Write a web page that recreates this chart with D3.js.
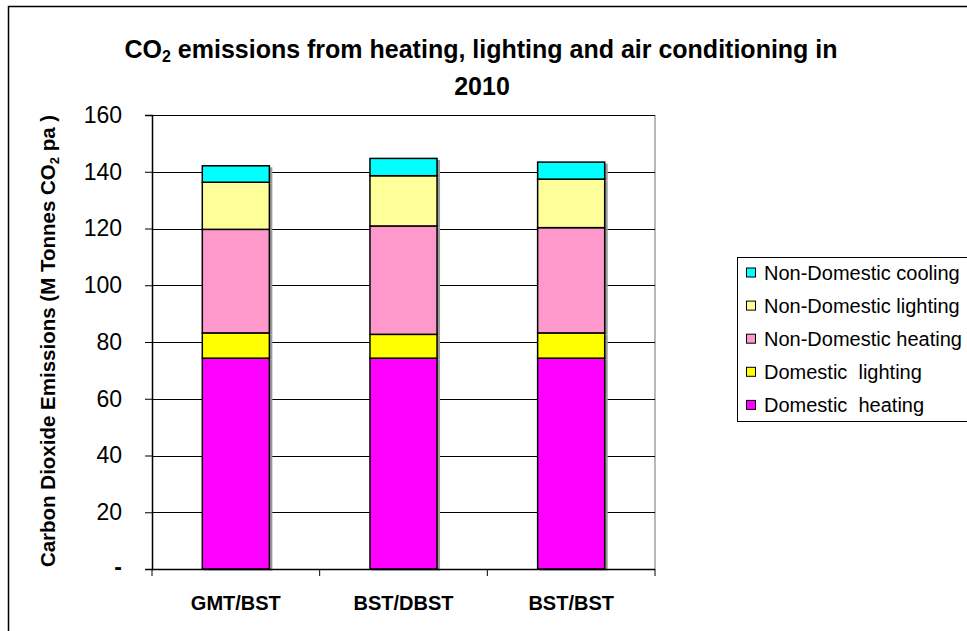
<!DOCTYPE html>
<html><head><meta charset="utf-8">
<script src="https://cdn.jsdelivr.net/npm/d3@7"></script>
<style>body{margin:0;background:#fff}svg{display:block;font-family:"Liberation Sans",Arial,sans-serif}</style>
</head><body>
<svg id="c" width="967" height="631"></svg>
<script>
const categories = ["GMT/BST", "BST/DBST", "BST/BST"];
const seriesNames = ["Domestic  heating", "Domestic  lighting", "Non-Domestic heating", "Non-Domestic lighting", "Non-Domestic cooling"];
const seriesColors = ["#ff00ff", "#ffff00", "#ff99cc", "#ffff99", "#00ffff"];
const domesticHeating = [74.3, 74.3, 74.3];
const domesticLighting = [8.9, 8.4, 8.9];
const nonDomesticHeating = [36.5, 38.2, 37.1];
const nonDomesticLighting = [16.6, 17.7, 17.1];
const nonDomesticCooling = [5.8, 6.1, 6.0];
const yTicks = [0, 20, 40, 60, 80, 100, 120, 140, 160];

const seriesValues = [domesticHeating, domesticLighting, nonDomesticHeating, nonDomesticLighting, nonDomesticCooling];
const rows = categories.map((c, i) => {
  const r = {cat: c};
  seriesNames.forEach((s, j) => r[s] = seriesValues[j][i]);
  return r;
});

const svg = d3.select("#c");
const L = 152, R = 655, T = 115, B = 569;

// outer frame
svg.append("path").attr("d", "M8.5,631 V6.5 H967").attr("fill", "none").attr("stroke", "#000").attr("stroke-width", 1.5);

const x = d3.scaleBand().domain(categories).range([L, R]).paddingInner(0.6).paddingOuter(0.3);
const y = d3.scaleLinear().domain([0, 160]).range([B, T]);

// plot area border (right)
svg.append("line").attr("x1", R).attr("x2", R).attr("y1", T).attr("y2", B).attr("stroke", "#a0a0a0").attr("stroke-width", 1.5);

// gridlines
svg.append("g").selectAll("line").data(yTicks.filter(d => d > 0)).join("line")
  .attr("x1", L).attr("x2", R).attr("y1", d => Math.round(y(d)) + 0.5).attr("y2", d => Math.round(y(d)) + 0.5)
  .attr("stroke", "#000").attr("stroke-width", 1);

// bars
const stack = d3.stack().keys(seriesNames)(rows);
const g = svg.append("g");
stack.forEach((layer, j) => {
  g.append("g").selectAll("rect").data(layer).join("rect")
    .attr("x", d => x(d.data.cat) + 1.5)
    .attr("width", x.bandwidth() + 1.5)
    .attr("y", d => y(d[1]) + 1.5)
    .attr("height", d => y(d[0]) - y(d[1]))
    .attr("fill", "#9a9a9a");
});
stack.forEach((layer, j) => {
  g.append("g").selectAll("rect").data(layer).join("rect")
    .attr("x", d => x(d.data.cat))
    .attr("width", x.bandwidth())
    .attr("y", d => y(d[1]))
    .attr("height", d => y(d[0]) - y(d[1]))
    .attr("fill", seriesColors[j]).attr("stroke", "#000").attr("stroke-width", 1.5);
});

// y axis
const yAxis = d3.axisLeft(y).tickValues(yTicks).tickSize(7).tickPadding(23)
  .tickFormat(d => d === 0 ? "-" : d);
const ya = svg.append("g").attr("transform", `translate(${L},0)`).call(yAxis);
ya.select(".domain").attr("stroke", "#000").attr("stroke-width", 1.5);
ya.selectAll(".tick line").attr("stroke", "#000");
ya.selectAll(".tick text").attr("font-size", 23).attr("fill", "#000")
  .attr("font-family", "Liberation Sans, Arial, sans-serif")
  .filter(d => d === 0).attr("font-weight", "bold").attr("dy", "0.25em");

// x axis with boundary ticks
svg.append("line").attr("x1", L).attr("x2", R).attr("y1", B + 0.5).attr("y2", B + 0.5).attr("stroke", "#000").attr("stroke-width", 1.5);
const step = (R - L) / categories.length;
svg.append("g").selectAll("line").data(d3.range(categories.length + 1)).join("line")
  .attr("x1", i => L + i * step).attr("x2", i => L + i * step).attr("y1", B).attr("y2", B + 7)
  .attr("stroke", "#000");
svg.append("g").selectAll("text").data(categories).join("text")
  .attr("x", d => x(d) + x.bandwidth() / 2).attr("y", 610)
  .attr("text-anchor", "middle").attr("font-weight", "bold").attr("font-size", 20).text(d => d);

// y label
const yl = svg.append("text").attr("transform", "translate(55,341) rotate(-90)")
  .attr("text-anchor", "middle").attr("font-weight", "bold").attr("font-size", 20.5);
yl.append("tspan").text("Carbon Dioxide Emissions (M Tonnes CO");
yl.append("tspan").attr("font-size", 13).attr("dy", 4).text("2");
yl.append("tspan").attr("dy", -4).text(" pa )");

// title
const t1 = svg.append("text").attr("x", 481).attr("y", 58).attr("text-anchor", "middle")
  .attr("font-weight", "bold").attr("font-size", 25);
t1.append("tspan").text("CO");
t1.append("tspan").attr("font-size", 16).attr("dy", 4).text("2");
t1.append("tspan").attr("dy", -4).text(" emissions from heating, lighting and air conditioning in");
svg.append("text").attr("x", 482).attr("y", 95).attr("text-anchor", "middle")
  .attr("font-weight", "bold").attr("font-size", 25).text("2010");

// legend
svg.append("rect").attr("x", 737.5).attr("y", 257.5).attr("width", 240).attr("height", 164)
  .attr("fill", "#fff").attr("stroke", "#000");
const legendOrder = seriesNames.map((s, j) => j).reverse();
const lg = svg.append("g").selectAll("g").data(legendOrder).join("g")
  .attr("transform", (j, i) => `translate(746,${272.5 + i * 33.1})`);
lg.append("rect").attr("x", 0.5).attr("y", -4.5).attr("width", 9).attr("height", 9)
  .attr("fill", j => seriesColors[j]).attr("stroke", "#000");
lg.append("text").attr("x", 18).attr("y", 7).attr("font-size", 20).text(j => seriesNames[j]).attr("xml:space", "preserve");
</script>
</body></html>
